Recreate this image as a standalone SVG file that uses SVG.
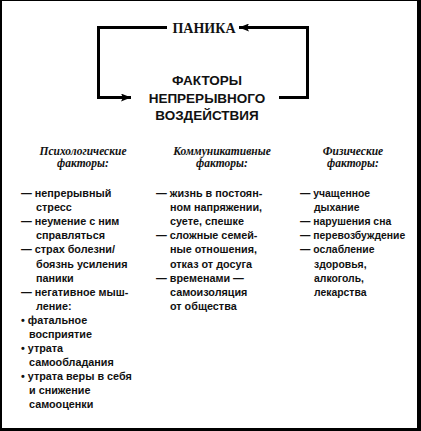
<svg xmlns="http://www.w3.org/2000/svg" width="421" height="431" viewBox="0 0 421 431">
<defs>
<style>
.title{font-family:"Liberation Serif",serif;font-weight:bold;font-size:14px;fill:#111}
.main{font-family:"Liberation Sans",sans-serif;font-weight:bold;font-size:13.5px;fill:#111;text-anchor:middle}
.head{font-family:"Liberation Serif",serif;font-weight:bold;font-style:italic;font-size:11.5px;fill:#111;text-anchor:middle}
.item{font-family:"Liberation Sans",sans-serif;font-weight:bold;font-size:10.8px;fill:#111}
.item3{font-family:"Liberation Sans",sans-serif;font-weight:bold;font-size:10.4px;fill:#111}
.conn{fill:none;stroke:#000;stroke-width:3}
</style>
<marker id="ah" viewBox="0 0 10 8" refX="10" refY="4" markerWidth="11" markerHeight="8" markerUnits="userSpaceOnUse" orient="auto">
<path d="M0,0 L10,4 L0,8 L2,4 Z" fill="#000"/>
</marker>
</defs>
<rect x="0" y="0" width="421" height="431" fill="#000"/>
<rect x="2" y="1" width="415" height="427" fill="#fff"/>

<g id="connectors">
<path class="conn" d="M167,27.5 H98.5 V97.5 H131" marker-end="url(#ah)"/>
<path class="conn" d="M279,97.5 H307.5 V27.5 H239" marker-end="url(#ah)"/>
</g>

<g id="panic">
<text class="title" x="204" y="33" text-anchor="middle">ПАНИКА</text>
</g>

<g id="factors">
<text class="main" x="207" y="85">ФАКТОРЫ</text>
<text class="main" x="207" y="103">НЕПРЕРЫВНОГО</text>
<text class="main" x="207" y="120">ВОЗДЕЙСТВИЯ</text>
</g>

<g id="psych">
<text class="head" x="83" y="155">Психологические</text>
<text class="head" x="83" y="167">факторы:</text>
<text class="item" x="21" y="197">— непрерывный</text>
<text class="item" x="36" y="211">стресс</text>
<text class="item" x="21" y="225">— неумение с ним</text>
<text class="item" x="36" y="239">справляться</text>
<text class="item" x="21" y="253">— страх болезни/</text>
<text class="item" x="36" y="268">боязнь усиления</text>
<text class="item" x="36" y="282">паники</text>
<text class="item" x="21" y="296">— негативное мыш-</text>
<text class="item" x="36" y="310">ление:</text>
<text class="item" x="21" y="324">• фатальное</text>
<text class="item" x="29" y="338">восприятие</text>
<text class="item" x="21" y="352">• утрата</text>
<text class="item" x="29" y="366">самообладания</text>
<text class="item" x="21" y="380">• утрата веры в себя</text>
<text class="item" x="29" y="394">и снижение</text>
<text class="item" x="29" y="408">самооценки</text>
</g>

<g id="comm">
<text class="head" x="222" y="155">Коммуникативные</text>
<text class="head" x="222" y="167">факторы:</text>
<text class="item" x="156" y="197">— жизнь в постоян-</text>
<text class="item" x="170" y="211">ном напряжении,</text>
<text class="item" x="170" y="225">суете, спешке</text>
<text class="item" x="156" y="239">— сложные семей-</text>
<text class="item" x="170" y="253">ные отношения,</text>
<text class="item" x="170" y="268">отказ от досуга</text>
<text class="item" x="156" y="282">— временами —</text>
<text class="item" x="170" y="296">самоизоляция</text>
<text class="item" x="170" y="310">от общества</text>
</g>

<g id="phys">
<text class="head" x="353" y="155">Физические</text>
<text class="head" x="353" y="167">факторы:</text>
<text class="item3" x="300" y="197">— учащенное</text>
<text class="item3" x="314" y="211">дыхание</text>
<text class="item3" x="300" y="225">— нарушения сна</text>
<text class="item3" x="300" y="239">— перевозбуждение</text>
<text class="item3" x="300" y="253">— ослабление</text>
<text class="item3" x="314" y="268">здоровья,</text>
<text class="item3" x="314" y="282">алкоголь,</text>
<text class="item3" x="314" y="296">лекарства</text>
</g>
</svg>
